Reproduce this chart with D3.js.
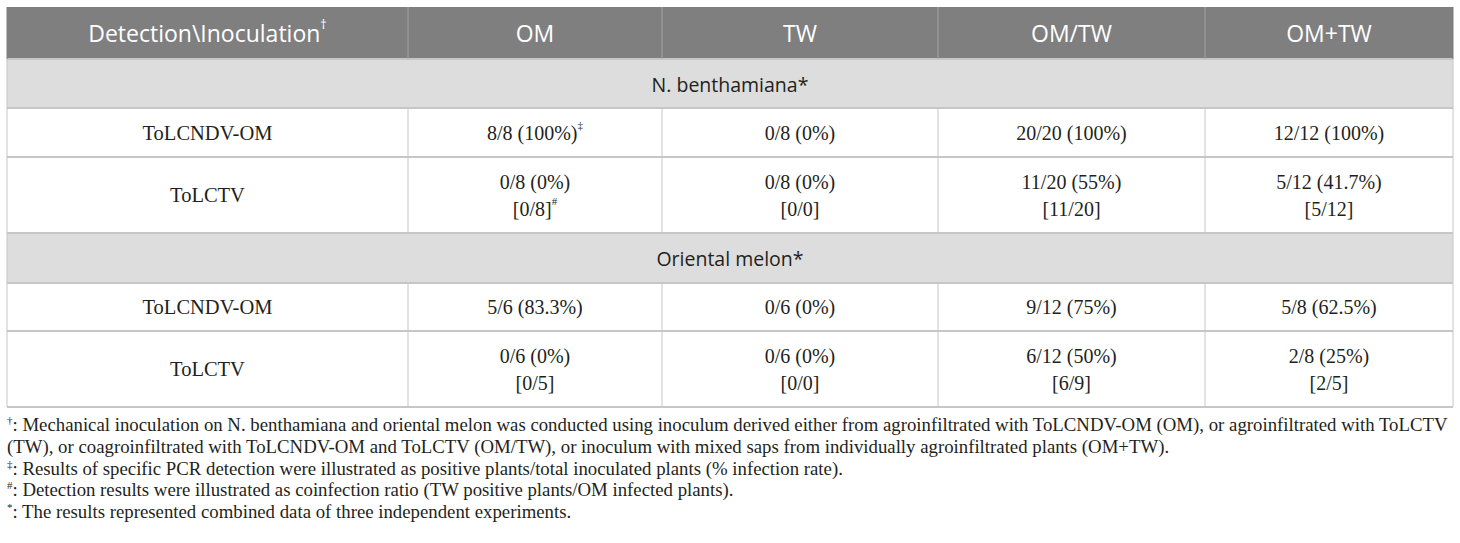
<!DOCTYPE html>
<html>
<head>
<meta charset="utf-8">
<script src="https://cdn.jsdelivr.net/npm/d3@7"></script>
<style>
  body { margin: 0; background: #fff; }
  svg { display: block; }
</style>
</head>
<body>
<div id="table"></div>
<script>
// table content
const inocula = ["OM", "TW", "OM/TW", "OM+TW"];
const hosts = ["N. benthamiana", "Oriental melon"];
const targets = ["ToLCNDV-OM", "ToLCTV"];

// positive plants / total inoculated plants (% infection rate)
const nbOmRates = ["8/8 (100%)", "0/8 (0%)", "20/20 (100%)", "12/12 (100%)"];
const nbTwRates = ["0/8 (0%)", "0/8 (0%)", "11/20 (55%)", "5/12 (41.7%)"];
const nbCoinfection = ["0/8", "0/0", "11/20", "5/12"];
const melonOmRates = ["5/6 (83.3%)", "0/6 (0%)", "9/12 (75%)", "5/8 (62.5%)"];
const melonTwRates = ["0/6 (0%)", "0/6 (0%)", "6/12 (50%)", "2/8 (25%)"];
const melonCoinfection = ["0/5", "0/0", "6/9", "2/5"];

const footnoteMarks = ["\u2020", "", "\u2021", "#", "*"];
const footnoteLines = [
  ": Mechanical inoculation on N. benthamiana and oriental melon was conducted using inoculum derived either from agroinfiltrated with ToLCNDV-OM (OM), or agroinfiltrated with ToLCTV",
  "(TW), or coagroinfiltrated with ToLCNDV-OM and ToLCTV (OM/TW), or inoculum with mixed saps from individually agroinfiltrated plants (OM+TW).",
  ": Results of specific PCR detection were illustrated as positive plants/total inoculated plants (% infection rate).",
  ": Detection results were illustrated as coinfection ratio (TW positive plants/OM infected plants).",
  ": The results represented combined data of three independent experiments."
];

// layout
const W = 1460, H = 543;
const tableLeft = 7, tableTop = 7;
const colWidths = [401, 254, 276, 267, 248];
const rowHeights = [52, 49, 49, 76, 50, 48, 76];

const colX = [tableLeft, ...d3.cumsum(colWidths).map(d => d + tableLeft)];
const rowY = [tableTop, ...d3.cumsum(rowHeights).map(d => d + tableTop)];
const tableRight = colX[colX.length - 1];

const serif = "'Liberation Serif', 'DejaVu Serif', serif";
const sans = "'Open Sans', 'Noto Sans', sans-serif";

const svg = d3.select("#table").append("svg")
  .attr("width", W)
  .attr("height", H);

// build the row list from the arrays
let rows = [{type: "header"}];
let hostData = [
  [nbOmRates, nbTwRates, nbCoinfection],
  [melonOmRates, melonTwRates, melonCoinfection]
];
hosts.forEach((h, i) => {
  rows.push({type: "group", label: h});
  rows.push({type: "body", label: targets[0], values: hostData[i][0], extra: null, mark: i === 0});
  rows.push({type: "body", label: targets[1], values: hostData[i][1], extra: hostData[i][2], mark: i === 0});
});

// backgrounds
rows.forEach((r, i) => {
  svg.append("rect")
    .attr("x", tableLeft)
    .attr("y", rowY[i])
    .attr("width", tableRight - tableLeft)
    .attr("height", rowHeights[i])
    .attr("fill", r.type === "header" ? "#7f7f7f" : r.type === "group" ? "#dddddd" : "#ffffff");
});

// horizontal rules
rowY.slice(1).forEach(y => {
  svg.append("line")
    .attr("x1", tableLeft).attr("x2", tableRight)
    .attr("y1", y).attr("y2", y)
    .attr("stroke", "#c6c6c6")
    .attr("stroke-width", 2);
});

// vertical rules (not through group rows)
rows.forEach((r, i) => {
  colX.forEach((x, j) => {
    let outer = j === 0 || j === colX.length - 1;
    if (r.type === "group" && !outer) return;
    svg.append("line")
      .attr("x1", x).attr("x2", x)
      .attr("y1", rowY[i]).attr("y2", rowY[i + 1])
      .attr("stroke", r.type === "header" ? (outer ? "#7f7f7f" : "#a3a3a3") : "#c6c6c6")
      .attr("stroke-width", 1);
  });
});

function cx(j) { return (colX[j] + colX[j + 1]) / 2; }

function cellText(x, y, str, sup, font, size, color) {
  let t = svg.append("text")
    .attr("x", x)
    .attr("y", y)
    .attr("text-anchor", "middle")
    .attr("dominant-baseline", "central")
    .attr("font-family", font)
    .attr("font-size", size)
    .attr("fill", color);
  t.append("tspan").text(str);
  if (sup) {
    t.append("tspan")
      .attr("font-size", size * 0.55)
      .attr("dy", -size * 0.38)
      .text(sup);
  }
  return t;
}

rows.forEach((r, i) => {
  let yMid = (rowY[i] + rowY[i + 1]) / 2;
  if (r.type === "header") {
    cellText(cx(0), yMid, "Detection\\Inoculation", "\u2020", sans, 23, "#ffffff");
    inocula.forEach((c, j) => cellText(cx(j + 1), yMid, c, null, sans, 23, "#ffffff"));
  } else if (r.type === "group") {
    cellText((tableLeft + tableRight) / 2, yMid, r.label + "*", null, sans, 19.5, "#231f20");
  } else {
    cellText(cx(0), yMid, r.label, null, serif, 20.5, "#231f20");
    r.values.forEach((v, j) => {
      if (r.extra) {
        cellText(cx(j + 1), yMid - 13, v, null, serif, 20, "#231f20");
        cellText(cx(j + 1), yMid + 14, "[" + r.extra[j] + "]", (r.mark && j === 0) ? "#" : null, serif, 20, "#231f20");
      } else {
        cellText(cx(j + 1), yMid, v, (r.mark && j === 0) ? "\u2021" : null, serif, 20, "#231f20");
      }
    });
  }
});

// footnotes
const footY = d3.scaleLinear().domain([0, 4]).range([431, 518]);
const maxFootWidth = tableRight - tableLeft - 2;
footnoteLines.forEach((line, i) => {
  let t = svg.append("text")
    .attr("x", tableLeft)
    .attr("y", footY(i))
    .attr("font-family", serif)
    .attr("font-size", 18.8)
    .attr("fill", "#231f20");
  if (footnoteMarks[i]) {
    t.append("tspan")
      .attr("font-size", 11)
      .attr("dy", -7)
      .text(footnoteMarks[i]);
    t.append("tspan")
      .attr("dy", 7)
      .text(line);
  } else {
    t.append("tspan").text(line);
  }
  // keep long lines inside the table width
  let w = t.node().getBBox().width;
  if (w > maxFootWidth) {
    t.attr("font-size", 18.8 * maxFootWidth / w);
  }
});
</script>
</body>
</html>
